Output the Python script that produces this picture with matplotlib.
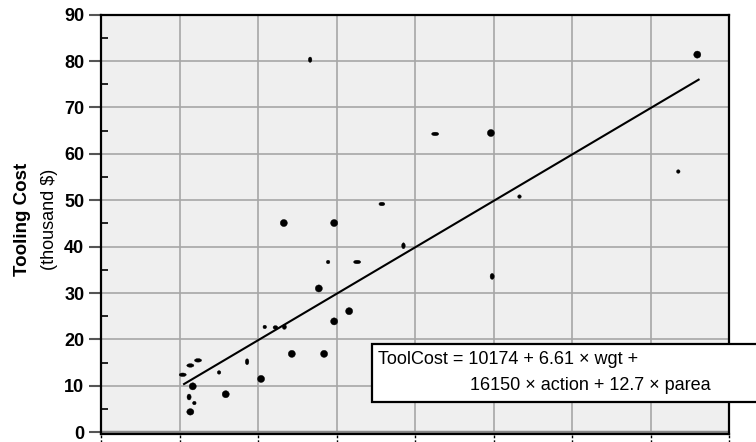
import matplotlib
matplotlib.use("Agg")
import matplotlib.pyplot as plt
from matplotlib.collections import EllipseCollection
from matplotlib.patches import Rectangle
import matplotlib.transforms as mtransforms
import numpy as np

plt.rcParams['font.family'] = ['Liberation Sans', 'DejaVu Sans']

# data
x_vals = [1.041, 1.138, 1.236, 1.169, 1.122, 1.189, 1.138, 1.504, 1.589, 1.861,
          2.039, 2.086, 2.222, 2.336, 2.329, 2.431, 2.664, 2.775, 2.842, 2.893,
          2.970, 2.970, 3.161, 3.263, 3.578, 3.853, 4.257, 4.967, 4.983, 5.331,
          7.354, 7.596]
tool_cost = [12.4, 14.4, 15.5, 9.9, 7.6, 6.3, 4.4, 12.9, 8.2, 15.2,
             11.5, 22.7, 22.6, 22.7, 45.1, 16.9, 80.3, 31.0, 16.9, 36.7,
             45.1, 23.9, 26.1, 36.7, 49.2, 40.2, 64.3, 64.5, 33.6, 50.8,
             56.2, 81.4]
marker_w = [6, 6, 6, 6, 3.5, 3, 6, 3, 6, 3,
            6, 3, 4, 3.5, 6, 6, 3, 6, 6, 3,
            6, 6, 6, 6, 5, 3, 6, 6, 3.5, 3,
            3, 6]
marker_h = [3, 3, 3, 6, 5, 3, 5.5, 3, 6, 5,
            6, 3, 3, 4, 6, 6, 4.5, 6, 6, 3,
            6, 6, 6, 3, 3, 5, 3, 6, 5, 3,
            3, 6]
fit_x = [1.058, 7.613]
fit_y = [10.4, 76.0]
y_ticks = [0, 10, 20, 30, 40, 50, 60, 70, 80, 90]
x_grid = [1, 2, 3, 4, 5, 6, 7]
equation_line1 = "ToolCost = 10174 + 6.61 \u00d7 wgt +"
equation_line2 = "16150 \u00d7 action + 12.7 \u00d7 parea"

W, H = 756, 442
fig = plt.figure(figsize=(W / 100, H / 100), dpi=100)
ax = fig.add_axes([101 / W, (H - 433.9) / H, (729 - 101) / W, (433.9 - 14.7) / H])
ax.set_facecolor('#efefef')
ax.set_xlim(0, 8)
ax.set_ylim(-0.35, 90)

# grid
for gx in x_grid:
    ax.axvline(gx, color='#a6a6a6', lw=1.2, zorder=1)
for gy in y_ticks[1:-1]:
    ax.axhline(gy, color='#a6a6a6', lw=1.2, zorder=1)
ax.axhline(0, color='#8a8a8a', lw=2.5, zorder=1)

# points (px -> points, slightly enlarged)
px2pt = 0.85
ec = EllipseCollection(np.array(marker_w) * px2pt, np.array(marker_h) * px2pt,
                       np.zeros(len(x_vals)), units='points',
                       offsets=np.column_stack([x_vals, tool_cost]),
                       offset_transform=ax.transData,
                       facecolors='black', edgecolors='black', linewidths=0.3,
                       zorder=3)
ax.add_collection(ec)

ax.plot(fit_x, fit_y, color='black', lw=1.5, zorder=4)

for s in ['top', 'left', 'right', 'bottom']:
    ax.spines[s].set_linewidth(1.6)
    ax.spines[s].set_color('black')

ax.set_yticks(y_ticks)
ax.set_yticklabels([str(v) for v in y_ticks], fontsize=13, fontweight='bold')
ax.set_yticks([v + 5 for v in y_ticks[:-1]], minor=True)
ax.tick_params(axis='y', which='major', direction='out', length=9, width=1.5,
               color='#555555', pad=3)
ax.tick_params(axis='y', which='minor', direction='in', length=5, width=1.2,
               color='black')
ax.set_xticks([])

# dotted tick marks below x axis
trans = mtransforms.blended_transform_factory(ax.transData, ax.transAxes)
for gx in [0] + x_grid + [8]:
    ax.plot([gx, gx], [-0.003, -0.025], transform=trans, color='black',
            lw=1.0, ls=(0, (2, 1.5)), clip_on=False)

ax.set_ylabel('')
fig.text(23 / W, 1 - 219 / H, 'Tooling Cost', rotation=90, ha='center', va='center',
         fontsize=13.5, fontweight='bold')
fig.text(49 / W, 1 - 219 / H, '(thousand $)', rotation=90, ha='center', va='center',
         fontsize=13)

# equation box
rect = Rectangle((372 / W, (H - 402) / H), 0.6, 58 / H, transform=fig.transFigure,
                 facecolor='white', edgecolor='black', lw=1.6, zorder=10)
fig.patches.append(rect)
fig.text(378 / W, 1 - 360 / H, equation_line1, ha='left', va='center', fontsize=13,
         zorder=11)
fig.text(470 / W, 1 - 385 / H, equation_line2, ha='left', va='center', fontsize=13,
         zorder=11)

fig.savefig('out.png', dpi=100)
